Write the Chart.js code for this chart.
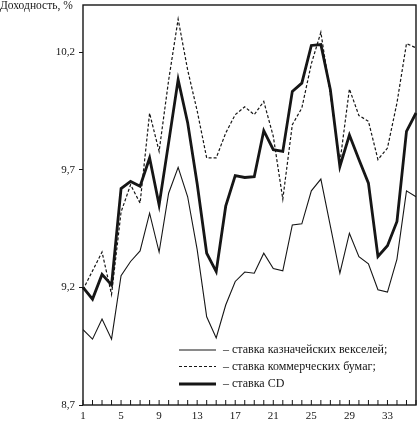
<!DOCTYPE html>
<html>
<head>
<meta charset="utf-8">
<script src="https://cdn.jsdelivr.net/npm/chart.js@4/dist/chart.umd.min.js"></script>
<style>
  html, body { margin: 0; padding: 0; background: #fff; }
  #wrap { width: 418px; height: 424px; }
</style>
</head>
<body>
<div id="wrap"><canvas id="yieldChart"></canvas></div>
<script>
// months 1..36
const months = Array.from({ length: 36 }, (_, i) => String(i + 1));
const yTicks = [8.7, 9.2, 9.7, 10.2];

const treasury = [9.02, 8.98, 9.065, 8.98, 9.25, 9.31, 9.355, 9.515, 9.35, 9.60, 9.71, 9.585,
                  9.36, 9.075, 8.985, 9.125, 9.225, 9.265, 9.26, 9.345, 9.28, 9.27, 9.465, 9.47,
                  9.61, 9.66, 9.46, 9.26, 9.43, 9.33, 9.30, 9.19, 9.18, 9.32, 9.61, 9.585];
const commPaper = [9.19, 9.27, 9.35, 9.17, 9.52, 9.636, 9.558, 9.94, 9.778, 10.08, 10.34, 10.124,
                   9.95, 9.75, 9.75, 9.856, 9.934, 9.967, 9.934, 9.99, 9.842, 9.575, 9.891, 9.962,
                   10.15, 10.284, 10.02, 9.73, 10.043, 9.93, 9.906, 9.743, 9.792, 9.984, 10.236, 10.218];
const cdRate = [9.2, 9.15, 9.255, 9.21, 9.62, 9.65, 9.63, 9.75, 9.55, 9.815, 10.083, 9.90,
                9.64, 9.345, 9.267, 9.545, 9.675, 9.667, 9.67, 9.866, 9.785, 9.778, 10.033, 10.068,
                10.228, 10.232, 10.04, 9.714, 9.847, 9.743, 9.643, 9.331, 9.377, 9.48, 9.863, 9.941];

const seriesNames = ['ставка казначейских векселей;', 'ставка коммерческих бумаг;', 'ставка CD'];

const ink = '#161616';
const serif = '"Liberation Serif", "DejaVu Serif", serif';

// box, inward x ticks, y title, legend
const decor = {
    id: 'decor',
    afterDraw(chart) {
        const ctx = chart.ctx;
        const a = chart.chartArea;
        const x = chart.scales.x;
        ctx.save();
        ctx.strokeStyle = ink;
        ctx.lineWidth = 1.4;
        ctx.strokeRect(a.left, a.top, a.right - a.left, a.bottom - a.top);

        ctx.lineWidth = 1;
        months.forEach((m, i) => {
            const px = x.getPixelForValue(i);
            ctx.beginPath();
            ctx.moveTo(px, a.bottom);
            ctx.lineTo(px, a.bottom - 5);
            ctx.stroke();
        });

        ctx.fillStyle = ink;
        ctx.font = '11.5px ' + serif;
        ctx.textBaseline = 'middle';
        ctx.textAlign = 'left';
        ctx.fillText('Доходность, %', 0, 6);

        // legend
        const lx = 179, lw = 37;
        const rows = [350, 366.5, 384];
        ctx.font = '12px ' + serif;
        chart.data.datasets.forEach((ds, i) => {
            ctx.beginPath();
            ctx.lineWidth = ds.borderWidth;
            ctx.setLineDash(ds.borderDash || []);
            ctx.moveTo(lx, rows[i]);
            ctx.lineTo(lx + lw, rows[i]);
            ctx.stroke();
            ctx.setLineDash([]);
            ctx.fillText('– ' + ds.label, 223, rows[i]);
        });
        ctx.restore();
    }
};

new Chart(document.getElementById('yieldChart').getContext('2d'), {
    type: 'line',
    data: {
        labels: months,
        datasets: [
            {
                label: seriesNames[0],
                data: treasury,
                borderColor: ink,
                borderWidth: 1.1,
                pointRadius: 0,
                tension: 0
            },
            {
                label: seriesNames[1],
                data: commPaper,
                borderColor: ink,
                borderWidth: 1.2,
                borderDash: [3, 2],
                pointRadius: 0,
                tension: 0
            },
            {
                label: seriesNames[2],
                data: cdRate,
                borderColor: ink,
                borderWidth: 2.8,
                pointRadius: 0,
                tension: 0
            }
        ]
    },
    options: {
        responsive: true,
        maintainAspectRatio: false,
        animation: false,
        layout: { padding: { top: 5, right: 2, left: 0, bottom: 0 } },
        plugins: {
            legend: { display: false },
            tooltip: { enabled: false }
        },
        scales: {
            x: {
                type: 'category',
                offset: false,
                afterFit: s => { s.height = 19; s.paddingLeft = 0; s.paddingRight = 0; },
                grid: { display: false, drawTicks: false },
                border: { display: false },
                ticks: {
                    autoSkip: false,
                    maxRotation: 0,
                    padding: 5,
                    color: ink,
                    font: { family: serif, size: 11 },
                    callback: (v, i) => (i % 4 === 0 ? months[i] : '')
                }
            },
            y: {
                min: 8.7,
                max: 10.4,
                afterFit: s => { s.width = 83; s.paddingTop = 0; s.paddingBottom = 0; },
                afterBuildTicks: s => { s.ticks = yTicks.map(v => ({ value: v })); },
                grid: { drawOnChartArea: false, tickLength: 4, color: ink, lineWidth: 1 },
                border: { display: false },
                ticks: {
                    padding: 4,
                    color: ink,
                    font: { family: serif, size: 11 },
                    callback: v => v.toFixed(1).replace('.', ',')
                }
            }
        }
    },
    plugins: [decor]
});
</script>
</body>
</html>
